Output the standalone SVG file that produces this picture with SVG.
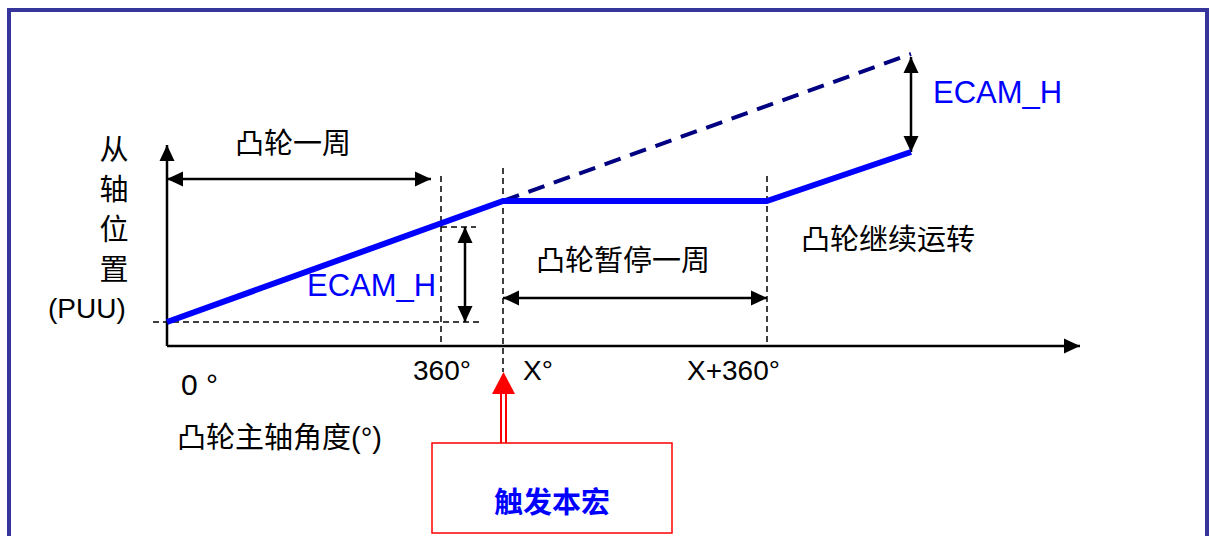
<svg xmlns="http://www.w3.org/2000/svg" width="1210" height="536" viewBox="0 0 1210 536">
<style>
.cjk{font-family:"Liberation Sans","Noto Sans CJK SC",sans-serif;font-size:29px;fill:#000}
.lat{font-family:"Liberation Sans","Noto Sans CJK SC",sans-serif;font-size:28px;fill:#000}
.ecam{font-family:"Liberation Sans",sans-serif;font-size:31px;fill:#0000ff}
.axis{stroke:#000;stroke-width:2.5;fill:none}
.dim{stroke:#000;stroke-width:2.5;fill:none}
.guide{stroke:#000;stroke-width:1.5;stroke-dasharray:6 4;fill:none}
.curve{stroke:#0000ff;stroke-width:6;fill:none;stroke-linejoin:round}
.ghost{stroke:#000080;stroke-width:4;stroke-dasharray:17 10;fill:none}
</style>
<defs>
<marker id="ah" markerUnits="userSpaceOnUse" markerWidth="16" markerHeight="16" viewBox="0 0 16 16" refX="16" refY="8" orient="auto-start-reverse">
<path d="M0,0.5 L16,8 L0,15.5 z" fill="#000"/>
</marker>
</defs>
<rect x="9" y="10" width="1198" height="540" fill="#fff" stroke="#35359c" stroke-width="4"/>
<g id="connectors">
<line class="guide" x1="153" y1="322" x2="480" y2="322"/>
<line class="guide" x1="441" y1="227" x2="476" y2="227"/>
<line class="guide" x1="441" y1="176" x2="441" y2="346"/>
<line class="guide" x1="503" y1="168" x2="503" y2="372"/>
<line class="guide" x1="767" y1="176" x2="767" y2="346"/>
<line class="axis" x1="167" y1="346" x2="167" y2="145" marker-end="url(#ah)"/>
<line class="axis" x1="167" y1="346" x2="1080" y2="346" marker-end="url(#ah)"/>
<line class="dim" x1="167" y1="179" x2="431" y2="179" marker-start="url(#ah)" marker-end="url(#ah)"/>
<line class="dim" x1="465" y1="227" x2="465" y2="322" marker-start="url(#ah)" marker-end="url(#ah)"/>
<line class="dim" x1="503" y1="298" x2="767" y2="298" marker-start="url(#ah)" marker-end="url(#ah)"/>
<line class="dim" x1="911" y1="57" x2="911" y2="152" marker-start="url(#ah)" marker-end="url(#ah)"/>
<line class="ghost" x1="503" y1="201" x2="911" y2="54"/>
<polyline class="curve" points="167,322 503,201 767,201 911,152"/>
<g id="trigger-arrow">
<rect x="501" y="392" width="5" height="52" fill="#fff" stroke="#ff0000" stroke-width="2"/>
<polygon points="503.5,372 515,394 492,394" fill="#ff0000"/>
</g>
</g>
<g id="y-label">
<text class="cjk" x="114" y="160" text-anchor="middle">从</text>
<text class="cjk" x="114" y="200" text-anchor="middle">轴</text>
<text class="cjk" x="114" y="240" text-anchor="middle">位</text>
<text class="cjk" x="114" y="280" text-anchor="middle">置</text>
<text class="lat" x="48" y="318">(PUU)</text>
</g>
<g id="x-label">
<text class="cjk" x="177" y="448">凸轮主轴角度(°)</text>
</g>
<g id="ticks">
<text class="lat" x="181" y="395" style="font-size:30px">0 °</text>
<text class="lat" x="413" y="380">360°</text>
<text class="lat" x="523" y="380">X°</text>
<text class="lat" x="687" y="380">X+360°</text>
</g>
<g id="cam-cycle"><text class="cjk" x="235" y="154">凸轮一周</text></g>
<g id="cam-pause"><text class="cjk" x="536" y="271">凸轮暂停一周</text></g>
<g id="cam-continue"><text class="cjk" x="801" y="250">凸轮继续运转</text></g>
<g id="ecam-h-left"><text class="ecam" x="307" y="296">ECAM_H</text></g>
<g id="ecam-h-right"><text class="ecam" x="933" y="103">ECAM_H</text></g>
<g id="trigger-box">
<rect x="432" y="443" width="240" height="90" fill="#fff" stroke="#ff0000" stroke-width="1.5"/>
<text x="552" y="513" text-anchor="middle" style="font-family:'Noto Sans CJK SC',sans-serif;font-size:29px;font-weight:bold;fill:#0000ff">触发本宏</text>
</g>
</svg>
